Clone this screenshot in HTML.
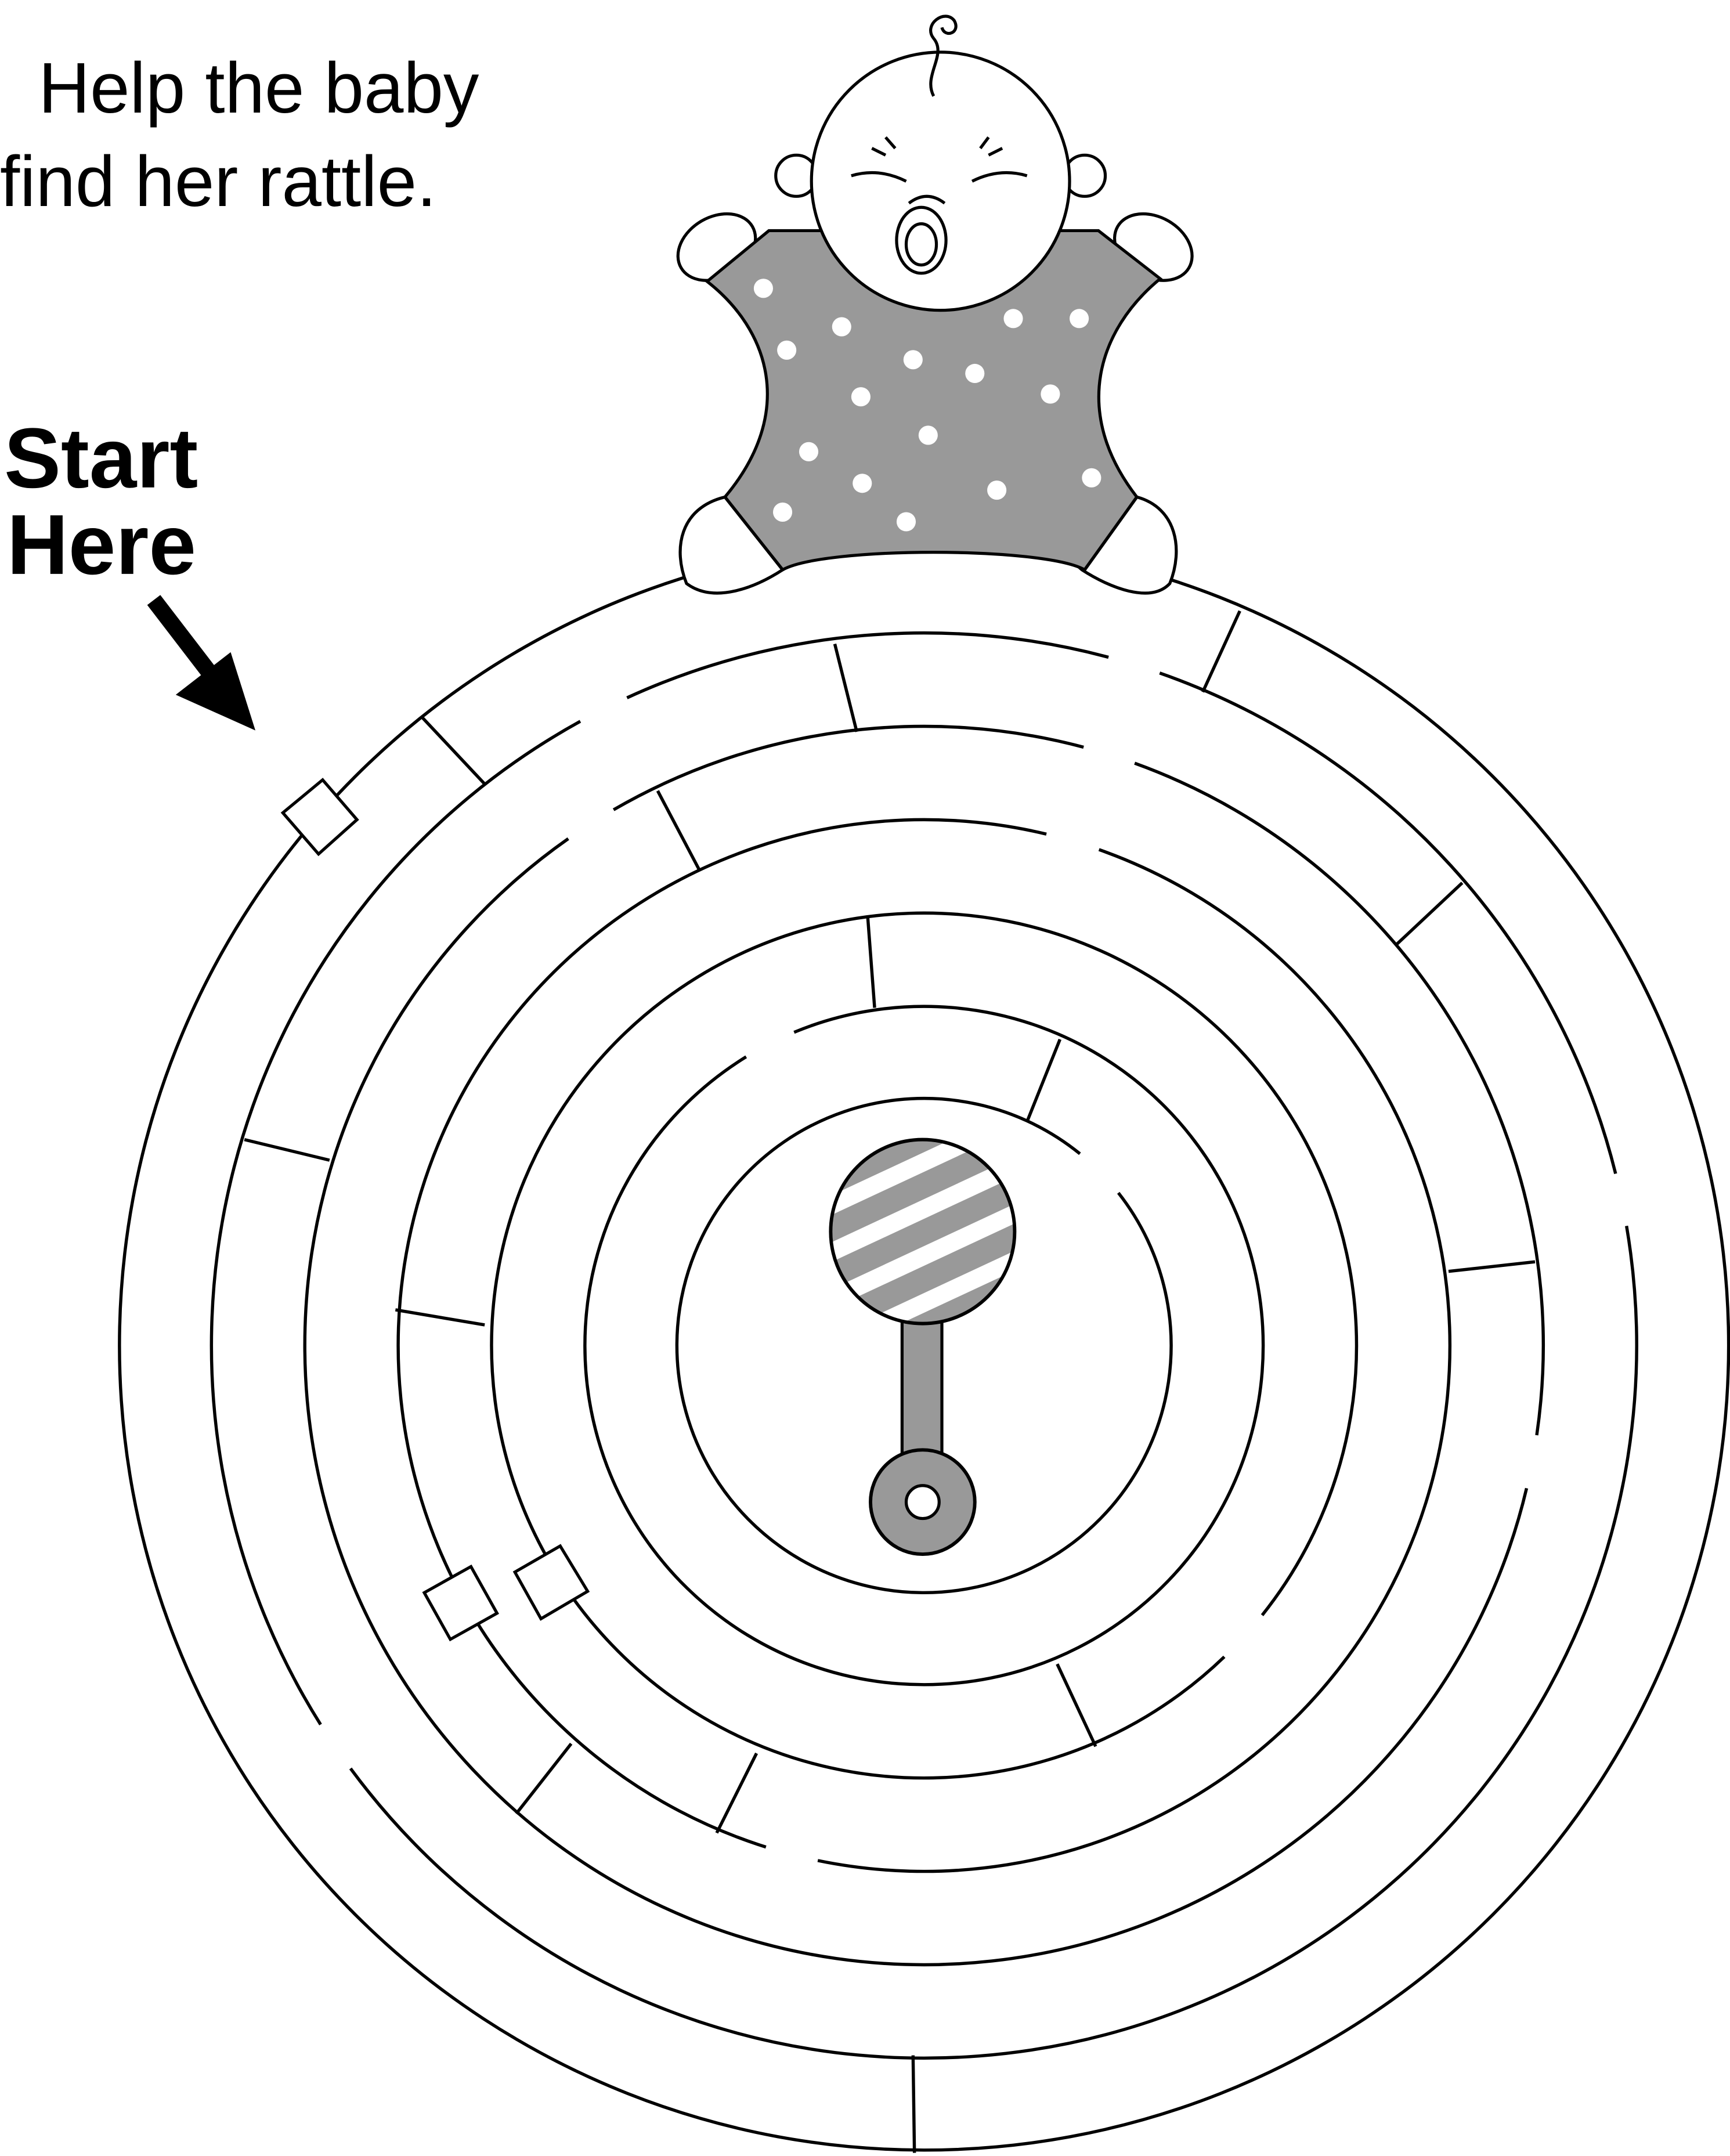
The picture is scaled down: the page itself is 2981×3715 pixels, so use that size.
<!DOCTYPE html>
<html><head><meta charset="utf-8">
<style>
html,body{margin:0;padding:0;background:#fff;}
svg{display:block;}
</style></head>
<body>
<svg id="s" xmlns="http://www.w3.org/2000/svg" width="2981" height="3715" viewBox="0 0 1260 1570.3" preserveAspectRatio="none">
<rect width="1260" height="1571" fill="#fff"/>
<text x="28" y="82" font-family="Liberation Sans, sans-serif" font-size="52" fill="#000">Help the baby</text>
<text x="0" y="150" font-family="Liberation Sans, sans-serif" font-size="52" fill="#000">find her rattle.</text>
<text x="3" y="355" font-family="Liberation Sans, sans-serif" font-weight="bold" font-size="62" fill="#000">Start</text>
<text x="5" y="418" font-family="Liberation Sans, sans-serif" font-weight="bold" font-size="62" fill="#000">Here</text>
<line x1="112" y1="437" x2="158" y2="497" stroke="#000" stroke-width="12"/>
<polygon points="128,506 168,475 186,532" fill="#000"/>
<g id="maze" fill="none" stroke="#000" stroke-width="2.3"></g>
<g stroke="#000" stroke-width="2.3" fill="none">
<line x1="307" y1="522" x2="353" y2="571"/>
<line x1="903" y1="445" x2="876" y2="504"/>
<line x1="665" y1="1497" x2="666" y2="1568"/>
<line x1="608" y1="469" x2="624" y2="533"/>
<line x1="1065" y1="643" x2="1017" y2="688"/>
<line x1="178" y1="830" x2="240" y2="845"/>
<line x1="479" y1="576" x2="509" y2="633"/>
<line x1="1055" y1="926" x2="1118" y2="919"/>
<line x1="416" y1="1270" x2="376" y2="1321"/>
<line x1="288" y1="954" x2="353" y2="965"/>
<line x1="551" y1="1277" x2="522" y2="1335"/>
<line x1="632" y1="668" x2="637" y2="734"/>
<line x1="770" y1="1212" x2="798" y2="1272"/>
<line x1="772" y1="757" x2="748" y2="817"/>
</g>
<g fill="#fff" stroke="#000" stroke-width="2.2">
<polygon points="235,568 260,597 232,622 206,592"/>
<polygon points="343,1141 362,1175 328,1194 309,1160"/>
<polygon points="408,1126 428,1159 394,1179 375,1145"/>
</g>
<defs><clipPath id="rc"><circle cx="672" cy="897" r="67"/></clipPath></defs>
<rect x="657" y="960" width="29" height="104" fill="#999" stroke="#000" stroke-width="2.2"/>
<circle cx="672" cy="897" r="67" fill="#999"/>
<g clip-path="url(#rc)" fill="#fff">
<g transform="rotate(-25 672 897)">
<rect x="560" y="845" width="240" height="13"/>
<rect x="560" y="876" width="240" height="13"/>
<rect x="560" y="907" width="240" height="13"/>
<rect x="560" y="938" width="240" height="13"/>
<rect x="560" y="814" width="240" height="13"/>
</g></g>
<circle cx="672" cy="897" r="67" fill="none" stroke="#000" stroke-width="2.5"/>
<circle cx="672" cy="1094" r="38" fill="#999" stroke="#000" stroke-width="2.5"/>
<circle cx="672" cy="1094" r="12" fill="#fff" stroke="#000" stroke-width="2.2"/>
<g stroke="#000" stroke-width="2.2">
<ellipse cx="522" cy="180" rx="30" ry="22" transform="rotate(-30 522 180)" fill="#fff"/>
<ellipse cx="840" cy="180" rx="30" ry="22" transform="rotate(30 840 180)" fill="#fff"/>
<path d="M500,425 C490,400 495,370 528,362 C560,360 590,400 570,415 C550,428 520,440 500,425 Z" fill="#fff"/>
<path d="M852,425 C862,400 857,370 828,362 C796,360 768,400 788,415 C808,428 838,440 852,425 Z" fill="#fff"/>
<path d="M515,205 L560,168 L800,168 L845,203 C800,240 780,300 828,362 L790,415 C760,398 600,398 570,415 L528,362 C580,300 560,240 515,205 Z" fill="#999"/>
<line x1="528" y1="362" x2="570" y2="415"/>
<line x1="828" y1="362" x2="790" y2="415"/>
</g>
<g fill="#fff">
<circle cx="556" cy="210" r="7"/><circle cx="613" cy="238" r="7"/><circle cx="573" cy="255" r="7"/>
<circle cx="665" cy="262" r="7"/><circle cx="738" cy="232" r="7"/><circle cx="786" cy="232" r="7"/>
<circle cx="710" cy="272" r="7"/><circle cx="627" cy="289" r="7"/><circle cx="765" cy="287" r="7"/>
<circle cx="676" cy="317" r="7"/><circle cx="589" cy="329" r="7"/><circle cx="795" cy="348" r="7"/>
<circle cx="628" cy="352" r="7"/><circle cx="726" cy="357" r="7"/><circle cx="570" cy="373" r="7"/>
<circle cx="660" cy="380" r="7"/>
</g>
<g stroke="#000" stroke-width="2.2" fill="#fff">
<circle cx="580" cy="128" r="15"/>
<circle cx="790" cy="128" r="15"/>
<circle cx="685" cy="132" r="94"/>
<ellipse cx="671" cy="175" rx="18" ry="24"/>
<ellipse cx="671" cy="178" rx="11" ry="15"/>
<path d="M620,128 Q640,122 660,132" fill="none"/>
<path d="M708,132 Q728,122 748,128" fill="none"/>
<path d="M662,148 Q675,138 688,148" fill="none"/>
<path d="M645,100 L652,108 M635,108 L645,113 M720,100 L714,108 M730,108 L720,113" fill="none"/>
<path d="M680,70 C672,55 690,40 680,28 C672,18 688,6 695,15 C700,24 688,28 686,20" fill="none"/>
</g>
</svg>
<script>
(function(){
var cx=673, cy=980;
var rings=[
 [586,[]],
 [519,[[423,526,457,509],[807,480,844,492],[1176,855,1184,893],[232,1257,254,1289]]],
 [451,[[414,611,447,590],[789,545,826,557],[1117,1045,1112,1084]]],
 [383,[[762,608,800,620],[557,1348,595,1358]]],
 [315,[[920,1177,892,1207]]],
 [247,[[543,769,578,751]]],
 [180,[[786,841,813,870]]]
];
function ang(x,y){return Math.atan2(y-cy,x-cx);}
var g=document.getElementById('maze');
var ns='http://www.w3.org/2000/svg';
rings.forEach(function(rg){
 var r=rg[0], gaps=rg[1];
 if(!gaps.length){
  var c=document.createElementNS(ns,'circle');
  c.setAttribute('cx',cx);c.setAttribute('cy',cy);c.setAttribute('r',r);
  g.appendChild(c);return;
 }
 var gs=gaps.map(function(p){
  var a=ang(p[0],p[1]), b=ang(p[2],p[3]);
  if(a>b){var t=a;a=b;b=t;}
  return [a,b];
 }).sort(function(u,v){return u[0]-v[0];});
 var n=gs.length;
 for(var i=0;i<n;i++){
  var s=gs[i][1], e=gs[(i+1)%n][0];
  if(i==n-1) e+=2*Math.PI;
  var span=e-s;
  var x1=cx+r*Math.cos(s), y1=cy+r*Math.sin(s);
  var x2=cx+r*Math.cos(e), y2=cy+r*Math.sin(e);
  var p=document.createElementNS(ns,'path');
  p.setAttribute('d','M'+x1+','+y1+' A'+r+','+r+' 0 '+(span>Math.PI?1:0)+' 1 '+x2+','+y2);
  g.appendChild(p);
 }
});
})();
</script>
</body></html>
